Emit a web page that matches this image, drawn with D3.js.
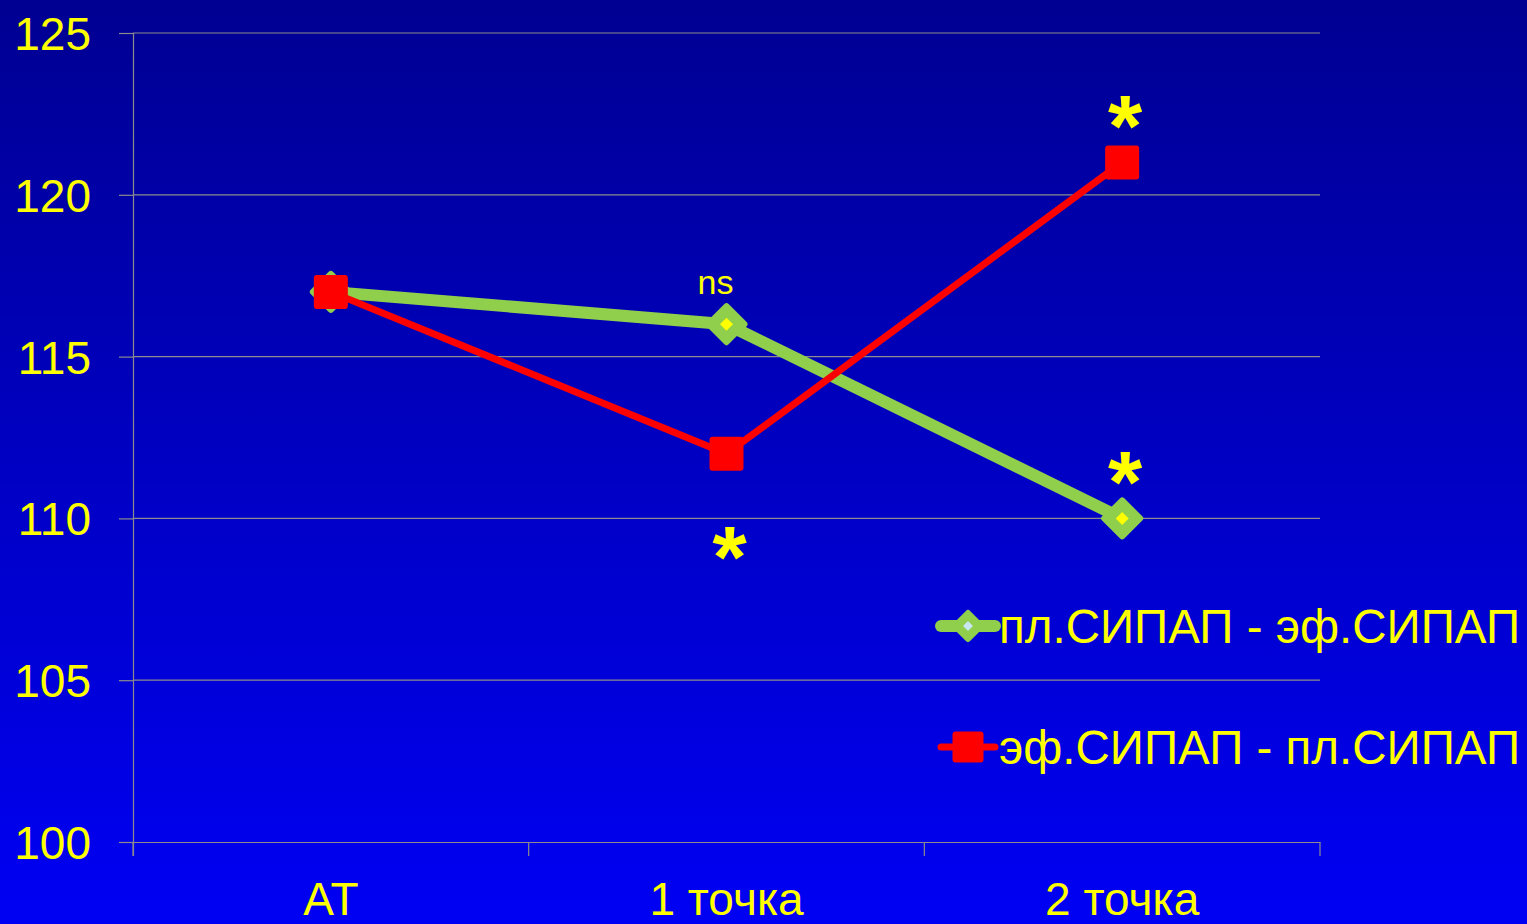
<!DOCTYPE html>
<html>
<head>
<meta charset="utf-8">
<script src="https://cdnjs.cloudflare.com/ajax/libs/d3/7.8.5/d3.min.js"></script>
<style>
  html, body { margin: 0; padding: 0; background: #0000cc; }
  svg { display: block; }
  text { font-family: "Liberation Sans", Arial, sans-serif; fill: #ffff00; }
</style>
</head>
<body>
<svg id="chart" width="1527" height="924"></svg>
<script>
// Time points and series values
const categories = ["AT", "1 точка", "2 точка"];
const seriesNames = ["пл.СИПАП - эф.СИПАП", "эф.СИПАП - пл.СИПАП"];
const greenValues = [117, 116, 110];
const redValues = [117, 112, 121];
const yTicks = [100, 105, 110, 115, 120, 125];
// Significance marks: [series index, category index, label, side]
const marks = [
  [0, 1, "ns", "above"],
  [0, 2, "*", "above"],
  [1, 1, "*", "below"],
  [1, 2, "*", "above"]
];

const W = 1527, H = 924;
const margin = { left: 133, right: 207, top: 33, bottom: 82 };
const svg = d3.select("#chart");

// Background gradient: dark navy at top to bright blue at bottom
const defs = svg.append("defs");
const grad = defs.append("linearGradient").attr("id", "bg")
  .attr("x1", 0).attr("y1", 0).attr("x2", 0).attr("y2", 1);
grad.append("stop").attr("offset", "0%").attr("stop-color", "#000092");
grad.append("stop").attr("offset", "100%").attr("stop-color", "#0000f4");
svg.append("rect").attr("width", W).attr("height", H).attr("fill", "url(#bg)");

const x = d3.scaleBand().domain(categories)
  .range([margin.left, W - margin.right]);
const y = d3.scaleLinear().domain([100, 125])
  .range([H - margin.bottom, margin.top]);
const cx = c => x(c) + x.bandwidth() / 2;

// Horizontal gridlines
svg.append("g").selectAll("line").data(yTicks.filter(d => d > 100)).join("line")
  .attr("x1", margin.left).attr("x2", W - margin.right)
  .attr("y1", d => y(d)).attr("y2", d => y(d))
  .attr("stroke", "#8c8c8c").attr("stroke-width", 1.2);

// Y axis
const yAxis = svg.append("g").attr("transform", `translate(${margin.left},0)`)
  .call(d3.axisLeft(y).tickValues(yTicks).tickSize(14).tickPadding(28).tickFormat(d3.format("d")));
yAxis.select(".domain").attr("stroke", "#8c8c8c").attr("stroke-width", 1.2)
  .attr("d", `M0.5,${margin.top}V${H - margin.bottom + 14}`);
yAxis.selectAll(".tick line").attr("stroke", "#8c8c8c").attr("stroke-width", 1.2);
yAxis.selectAll(".tick text").attr("fill", "#ffff00")
  .style("font-size", "46px").attr("dy", "0.36em");

// X axis
const xAxis = svg.append("g").attr("transform", `translate(0,${H - margin.bottom})`)
  .call(d3.axisBottom(x).tickSize(0).tickPadding(40));
xAxis.select(".domain").attr("stroke", "#8c8c8c").attr("stroke-width", 1.2);
xAxis.selectAll(".tick text").attr("fill", "#ffff00").style("font-size", "46px");
// Category separator ticks
const sepPos = categories.map(c => x(c)).concat([x(categories[2]) + x.bandwidth()]);
svg.append("g").selectAll("line").data(sepPos).join("line")
  .attr("x1", d => d).attr("x2", d => d)
  .attr("y1", H - margin.bottom).attr("y2", H - margin.bottom + 14)
  .attr("stroke", "#8c8c8c").attr("stroke-width", 1.2);

const line = d3.line().x((d, i) => cx(categories[i])).y(d => y(d));

const GREEN = "#8fcf4c", RED = "#ff0000";

// Marker shapes
function diamond(g, px, py, r, s, inner) {
  g.append("path")
    .attr("d", `M${px},${py - r}L${px + r},${py}L${px},${py + r}L${px - r},${py}Z`)
    .attr("fill", GREEN).attr("stroke", GREEN).attr("stroke-width", 6)
    .attr("stroke-linejoin", "round");
  g.append("path")
    .attr("d", `M${px},${py - s}L${px + s},${py}L${px},${py + s}L${px - s},${py}Z`)
    .attr("fill", inner);
}
function square(g, px, py, h) {
  g.append("rect").attr("x", px - h).attr("y", py - h)
    .attr("width", 2 * h).attr("height", 2 * h).attr("rx", 3)
    .attr("fill", RED);
}

// Green series
svg.append("path").datum(greenValues).attr("d", line)
  .attr("fill", "none").attr("stroke", GREEN).attr("stroke-width", 12)
  .attr("stroke-linejoin", "round");
const gm = svg.append("g");
greenValues.forEach((v, i) => diamond(gm, cx(categories[i]), y(v), 18, 6.5, "#ffff00"));

// Red series
svg.append("path").datum(redValues).attr("d", line)
  .attr("fill", "none").attr("stroke", RED).attr("stroke-width", 7)
  .attr("stroke-linejoin", "round");
const rm = svg.append("g");
redValues.forEach((v, i) => square(rm, cx(categories[i]), y(v), 17));

// Significance annotations
const values = [greenValues, redValues];
marks.forEach(([s, c, label, side]) => {
  const px = cx(categories[c]);
  const py = y(values[s][c]);
  if (label === "ns") {
    svg.append("text").attr("x", px - 11).attr("y", py - 30)
      .attr("text-anchor", "middle").style("font-size", "34px").text(label);
  } else {
    svg.append("text").attr("x", px + 3)
      .attr("y", side === "above" ? py - 6 : py + 133)
      .attr("text-anchor", "middle").style("font-size", "88px")
      .style("font-weight", "bold").text(label);
  }
});

// Legend
const leg = svg.append("g");
const legX = 968, legY = [626, 747];
leg.append("line").attr("x1", legX - 27).attr("x2", legX + 27)
  .attr("y1", legY[0]).attr("y2", legY[0])
  .attr("stroke", GREEN).attr("stroke-width", 12).attr("stroke-linecap", "round");
diamond(leg, legX, legY[0], 13, 5, "#c8e6f0");
leg.append("line").attr("x1", legX - 27).attr("x2", legX + 27)
  .attr("y1", legY[1]).attr("y2", legY[1])
  .attr("stroke", RED).attr("stroke-width", 7).attr("stroke-linecap", "round");
square(leg, legX, legY[1], 15.5);
seriesNames.forEach((n, i) => {
  leg.append("text").attr("x", 999).attr("y", legY[i] + 17)
    .style("font-size", "47.5px").text(n);
});
</script>
</body>
</html>
